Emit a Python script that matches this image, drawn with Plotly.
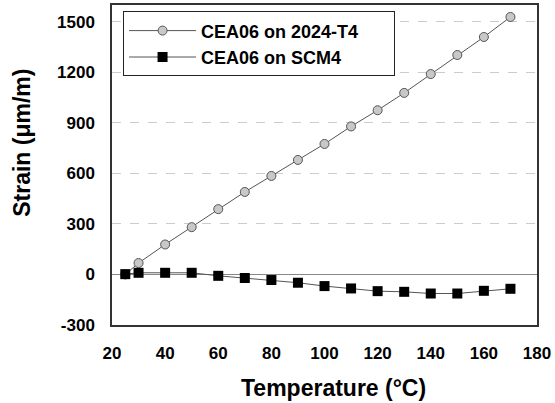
import plotly.graph_objects as go

temp_al = [25, 30, 40, 50, 60, 70, 80, 90, 100, 110, 120, 130, 140, 150, 160, 170]
strain_al = [0, 68, 178, 281, 388, 490, 585, 680, 775, 879, 975, 1078, 1190, 1303, 1410, 1529]

temp_scm = [25, 30, 40, 50, 60, 70, 80, 90, 100, 110, 120, 130, 140, 150, 160, 170]
strain_scm = [2, 10, 10, 10, -8, -21, -33, -49, -69, -83, -99, -103, -113, -113, -97, -85]

name_al = "CEA06 on 2024-T4"
name_scm = "CEA06 on SCM4"
x_ticks = [20, 40, 60, 80, 100, 120, 140, 160, 180]
y_ticks = [-300, 0, 300, 600, 900, 1200, 1500]
y_tick_labels = ["-300", "0", "300", "600", "900", "1200", "1500"]

pad = "\u00a0" * 6

fig = go.Figure()
fig.add_trace(go.Scatter(
    x=temp_al, y=strain_al, name=name_al + pad, mode="lines+markers",
    legendgroup="a",
    line=dict(color="#555555", width=1),
    marker=dict(symbol="circle", size=9, color="#c8c8c8",
                line=dict(color="#555555", width=1)),
))
fig.add_trace(go.Scatter(
    x=temp_scm, y=strain_scm, name=name_scm, mode="lines+markers",
    legendgroup="b",
    line=dict(color="#555555", width=1),
    marker=dict(symbol="square", size=10, color="black",
                line=dict(color="black", width=0)),
))

font_fam = "Liberation Sans, Arial, sans-serif"
fig.update_layout(
    width=555, height=403,
    margin=dict(l=112, r=18, t=5, b=78),
    paper_bgcolor="white", plot_bgcolor="white",
    font=dict(family=font_fam, color="black"),
    showlegend=True,
    legend=dict(
        x=0.026, y=0.98, xanchor="left", yanchor="top",
        bgcolor="white", bordercolor="#222222", borderwidth=1,
        font=dict(size=18, family=font_fam, weight="bold"),
        tracegroupgap=0, itemwidth=67,
    ),
    xaxis=dict(
        range=[20, 180], tickvals=x_ticks, showgrid=False,
        showline=True, linecolor="#333333", linewidth=1.5, mirror=True,
        ticks="", zeroline=False, automargin=False, ticklabelstandoff=12,
        tickfont=dict(size=17, family=font_fam, weight="bold"),
    ),
    yaxis=dict(
        range=[-300, 1600], tickvals=y_ticks, ticktext=y_tick_labels,
        showgrid=True, gridcolor="#cccccc", griddash="dash", gridwidth=1,
        zeroline=True, zerolinecolor="#888888", zerolinewidth=1,
        showline=True, linecolor="#333333", linewidth=1.5, mirror=True,
        ticks="", ticklabelstandoff=12, automargin=False,
        tickfont=dict(size=17, family=font_fam, weight="bold"),
    ),
    annotations=[
        dict(text="Temperature (°C)", xref="paper", yref="paper",
             x=0.522, y=-0.197, xanchor="center", yanchor="middle",
             showarrow=False,
             font=dict(size=23, family=font_fam, weight="bold", color="black")),
        dict(text="Strain (μm/m)", xref="paper", yref="paper",
             x=-0.212, y=0.569, xanchor="center", yanchor="middle",
             textangle=-90, showarrow=False,
             font=dict(size=23, family=font_fam, weight="bold", color="black")),
    ],
)

fig.write_html("out.html", config={"displayModeBar": False},
               post_script="document.body.style.margin='0';")
